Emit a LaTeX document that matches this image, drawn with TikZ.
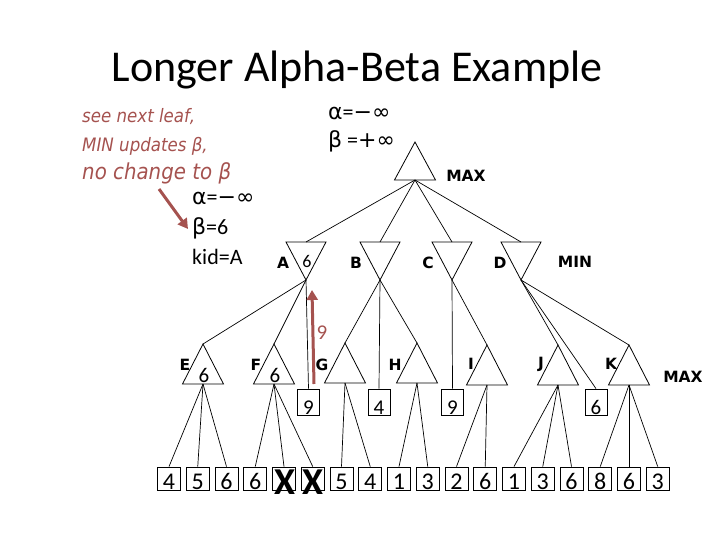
\documentclass[tikz,border=0pt]{standalone}
\usepackage{fontspec}
\setmainfont{Carlito}
\newfontfamily\dv{DejaVu Sans}
\newfontfamily\dvn{DejaVu Sans}[FakeStretch=0.9]
\usetikzlibrary{arrows.meta}
\definecolor{anno}{RGB}{165,82,79}
\begin{document}
\begin{tikzpicture}[x=1pt,y=-1pt,
  tri/.style={draw=black,line width=0.8pt,line join=miter},
  conn/.style={draw=black,line width=0.7pt},
  lab/.style={font=\dv\bfseries\fontsize{15.5}{18}\selectfont,inner sep=0pt},
  leaf/.style={draw,line width=0.8pt,minimum width=23pt,minimum height=23pt,inner sep=0pt},
  sq/.style={draw,line width=0.8pt,minimum width=22pt,minimum height=26pt,inner sep=0pt},
  num/.style={font=\fontsize{24}{24}\selectfont,anchor=base,inner sep=0pt},
  midnum/.style={font=\fontsize{21}{21}\selectfont,anchor=base,inner sep=0pt},
  ab/.style={font=\fontsize{22}{22}\selectfont,anchor=base west,inner sep=0pt},
  annot/.style={text=anno,anchor=base west,inner sep=0pt},
  redarrow/.style={draw=anno,line width=3pt,-{Triangle[length=10pt,width=11pt]}},
  bigx/.style={font=\bfseries\fontsize{38}{38}\selectfont,anchor=base,inner sep=0pt}]
\useasboundingbox (0,0) rectangle (720,540);

% title
\node[font=\fontsize{44}{44}\selectfont,anchor=base,inner sep=0pt] (title) at (357,82) {Longer Alpha-Beta Example};

% annotation
\node[annot,font=\dvn\itshape\fontsize{18.5}{18.5}\selectfont] (n1) at (82,123) {see next leaf,};
\node[annot,font=\dvn\itshape\fontsize{18.5}{18.5}\selectfont] (n2) at (82,152) {MIN updates β,};
\node[annot,font=\dvn\itshape\fontsize{22}{22}\selectfont] (n3) at (82,180) {no change to β};

% root alpha beta
\node[ab] (ra) at (328,120) {{\dv α}={\dv −∞}};
\node[ab] (rb) at (328,148) {{\dv β} ={\dv +∞}};

% A alpha beta
\node[ab] (aa) at (192,205) {{\dv α}={\dv −∞}};
\node[ab] (ab2) at (192,235) {{\dv β}=6};
\node[ab] (ak) at (192,264) {kid=A};

% root triangle
\coordinate (R-t) at (415,142);
\coordinate (R-b) at (415,180);
\draw[tri] (R-t) -- ++(-20.5,38) -- ++(41,0) -- cycle;
\node[lab] (maxtop) at (466,176) {MAX};

% MIN triangles
\foreach \n/\x in {A/306,B/380,C/452,D/521}{
  \coordinate (\n-t) at (\x,242);
  \coordinate (\n-b) at (\x,280);
  \draw[tri] (\n-b) -- ++(-20,-38) -- ++(40,0) -- cycle;
  \draw[conn] (R-b) -- (\n-t);
}
\node[lab] (lA) at (283,263) {A};
\node[lab] (lB) at (356,263) {B};
\node[lab] (lC) at (428,263) {C};
\node[lab] (lD) at (500,263) {D};
\node[lab] (lMIN) at (575,262) {MIN};
\node[font=\fontsize{18}{18}\selectfont,anchor=base,inner sep=0pt] (vA) at (307,267) {6};

% MAX triangles
\foreach \n/\x/\y in {E/203/344,F/274/344,G/345/343,H/417/343,I/487/345,J/558/345,K/629/345}{
  \coordinate (\n-t) at (\x,\y);
  \coordinate (\n-b) at (\x,\y+40);
  \draw[tri] (\n-t) -- ++(-20.5,40) -- ++(41,0) -- cycle;
}
\node[lab] (lE) at (185,365) {E};
\node[lab] (lF) at (256,365) {F};
\node[lab] (lG) at (322,365) {G};
\node[lab] (lH) at (395,365) {H};
\node[lab] (lI) at (471,364) {I};
\node[lab] (lJ) at (541,364) {J};
\node[lab] (lK) at (611,364) {K};
\node[lab] (lMAX) at (683,377) {MAX};
\node[midnum] (vE) at (204,382) {6};
\node[midnum] (vF) at (275,382) {6};

% value squares
\node[sq] (s1) at (308.5,402) {};
\node[sq] (s2) at (379,402) {};
\node[sq] (s3) at (452.5,402) {};
\node[sq] (s4) at (596,402) {};
\node[midnum] at (308.5,414) {9};
\node[midnum] at (379,414) {4};
\node[midnum] at (452.5,414) {9};
\node[midnum] at (596,414) {6};

% MIN -> children
\draw[conn] (A-b) -- (E-t);
\draw[conn] (A-b) -- (F-t);
\draw[conn] (A-b) -- (s1.north);
\draw[conn] (B-b) -- (G-t);
\draw[conn] (B-b) -- (s2.north);
\draw[conn] (B-b) -- (H-t);
\draw[conn] (C-b) -- (s3.north);
\draw[conn] (C-b) -- (I-t);
\draw[conn] (D-b) -- (J-t);
\draw[conn] (D-b) -- (s4.north);
\draw[conn] (D-b) -- (K-t);

% leaves
\foreach \v [count=\i] in {4,5,6,6,{},{},5,4,1,3,2,6,1,3,6,8,6,3}{
  \node[leaf] (L\i) at ({169+28.75*(\i-1)},478.5) {};
  \node[num] at ({169+28.75*(\i-1)},489) {\v};
}
\node[bigx] (x1) at (285,494) {X};
\node[bigx] (x2) at (313,494) {X};

\foreach \p/\ls in {E/{1,2,3},F/{4,5,6},G/{7,8},H/{9,10},I/{11,12},J/{13,14,15},K/{16,17,18}}{
  \foreach \l in \ls { \draw[conn] (\p-b) -- (L\l.north); }
}

% red arrows
\coordinate (a1s) at (159,189);
\coordinate (a1e) at (188,229);
\draw[redarrow] (a1s) -- (a1e);
\coordinate (a2s) at (314,384);
\coordinate (a2e) at (312,290);
\draw[redarrow] (a2s) -- (a2e);
\node[midnum,text=anno] (r9) at (322,339) {9};
\end{tikzpicture}
\end{document}
